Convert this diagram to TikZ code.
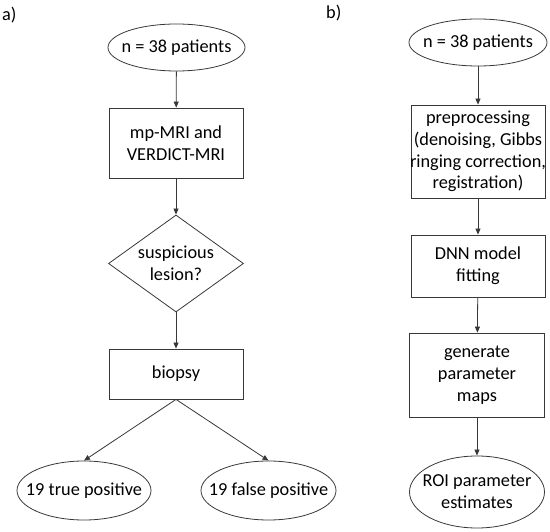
\documentclass[tikz,border=0pt]{standalone}
\usepackage{fontspec}
\setmainfont{Carlito}
\usetikzlibrary{shapes.geometric,arrows.meta}
\tikzset{
  x=1pt, y=-1pt,
  ln/.style={draw=black!78, line width=0.8pt},
  ell/.style={ln, ellipse, inner sep=0pt},
  boxnode/.style={ln, rectangle, inner sep=0pt},
  dia/.style={ln, diamond, inner sep=0pt},
  txt/.style={font=\fontsize{18.3}{21.8}\selectfont, align=center, inner sep=0pt, text=black},
  arr/.style={draw=black!78, line width=0.8pt, -{Triangle[length=6pt,width=5pt]}},
}
\begin{document}
\begin{tikzpicture}
\useasboundingbox (0,0) rectangle (550,532);
% labels
\node[txt, anchor=west] (la) at (2,15) {a)};
\node[txt, anchor=west] (lb) at (326,13) {b)};
% left column
\node[ell, minimum width=137pt, minimum height=47pt] (a1) at (176.5,47.5) {};
\node[txt] (a1t) at (a1) {n = 38 patients};
\node[boxnode, minimum width=134pt, minimum height=70pt] (a2) at (176,143) {};
\node[txt] (a2t) at (a2) {mp-MRI and\\VERDICT-MRI};
\node[dia, minimum width=135pt, minimum height=97pt] (a3) at (176,263.5) {};
\node[txt] (a3t) at (a3) {suspicious\\lesion?};
\node[boxnode, minimum width=134pt, minimum height=50pt] (a4) at (176,374) {};
\node[txt] (a4t) at (a4) {biopsy};
\node[ell, minimum width=134pt, minimum height=59pt] (a5) at (84,490.5) {};
\node[txt] (a5t) at (a5) {19 true positive};
\node[ell, minimum width=135pt, minimum height=59pt] (a6) at (268.5,490.5) {};
\node[txt] (a6t) at (a6) {19 false positive};
\draw[arr] (a1) -- (a2);
\draw[arr] (a2) -- (a3);
\draw[arr] (a3) -- (a4);
\draw[arr] (a4.south) -- (a5.north);
\draw[arr] (a4.south) -- (a6.north);
% right column
\node[ell, minimum width=138pt, minimum height=47pt] (b1) at (478,42.5) {};
\node[txt] (b1t) at (b1) {n = 38 patients};
\node[boxnode, minimum width=134pt, minimum height=93pt] (b2) at (478,151.5) {};
\node[txt] (b2t) at (b2) {preprocessing\\(denoising, Gibbs\\ringing correction,\\registration)};
\node[boxnode, minimum width=134pt, minimum height=62pt] (b3) at (478,266) {};
\node[txt] (b3t) at (b3) {DNN model\\fitting};
\node[boxnode, minimum width=135pt, minimum height=84pt] (b4) at (477,375) {};
\node[txt] (b4t) at (b4) {generate\\parameter\\maps};
\node[ell, minimum width=135pt, minimum height=72pt] (b5) at (477,492) {};
\node[txt] (b5t) at (b5) {ROI parameter\\estimates};
\draw[arr] (b1) -- (b2);
\draw[arr] (b2) -- (b3);
\draw[arr] (b3) -- (b4);
\draw[arr] (b4) -- (b5);
\end{tikzpicture}
\end{document}
